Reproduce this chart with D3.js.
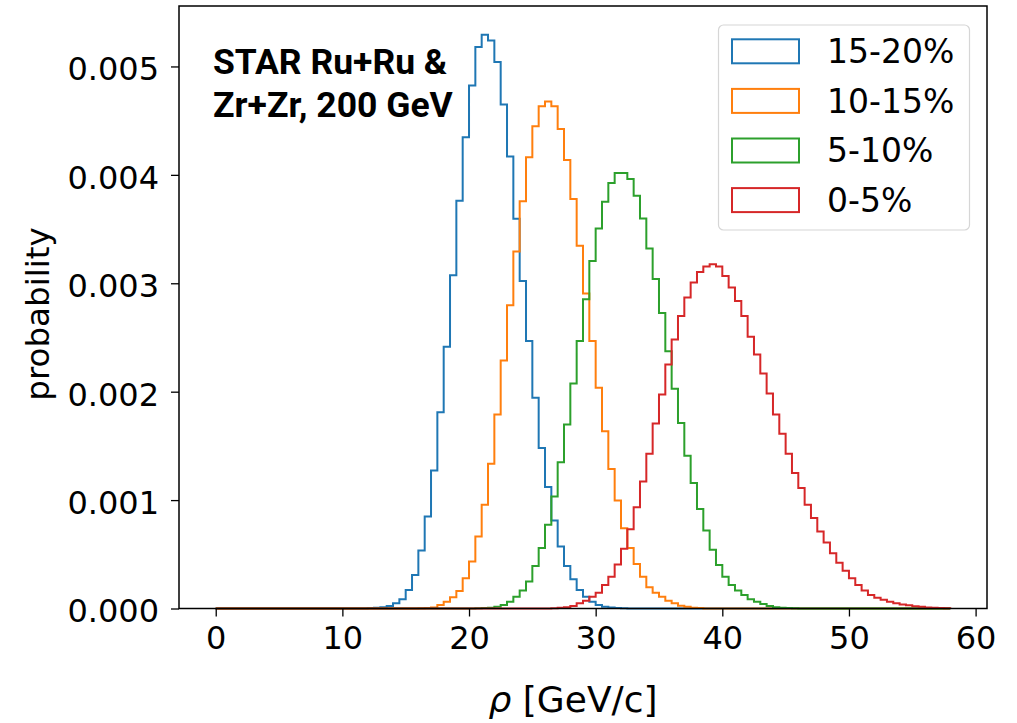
<!DOCTYPE html>
<html>
<head>
<meta charset="utf-8">
<script src="https://cdn.jsdelivr.net/npm/d3@7"></script>
<style>
	body { margin: 0; background: #fff; }
	text { font-family: "DejaVu Sans", sans-serif; fill: #000; }
</style>
</head>
<body>
<script>
// bins: common edges from 0 to 58 GeV/c, width 0.5
var binLo = 0;
var binHi = 58;
var binWidth = 0.5;

// series: label, colour, first non-empty bin (rho), probabilities (x 1e-3)
var labels = ['15-20%', '10-15%', '5-10%', '0-5%'];
var colors = ['#1f77b4', '#ff7f0e', '#2ca02c', '#d62728'];
var starts = [12.0, 16.0, 20.5, 26.5];

var cent15_20 = [0.004, 0.008, 0.011, 0.023, 0.048, 0.085, 0.171, 0.310, 0.534, 0.849,
	1.274, 1.810, 2.415, 3.074, 3.761, 4.347, 4.824, 5.179, 5.293, 5.240,
	5.041, 4.650, 4.170, 3.595, 3.021, 2.467, 1.943, 1.481, 1.121, 0.812,
	0.571, 0.393, 0.270, 0.171, 0.109, 0.063, 0.032, 0.017, 0.010, 0.005, 0.003];
var cent10_15 = [0.003, 0.005, 0.010, 0.032, 0.063, 0.104, 0.162, 0.279, 0.433, 0.664,
	0.957, 1.336, 1.789, 2.287, 2.797, 3.293, 3.756, 4.162, 4.449, 4.634,
	4.677, 4.634, 4.424, 4.137, 3.777, 3.345, 2.905, 2.467, 2.036, 1.635,
	1.287, 0.997, 0.741, 0.557, 0.410, 0.294, 0.196, 0.146, 0.109, 0.072,
	0.048, 0.026, 0.015, 0.008, 0.004];
var cent5_10 = [0.002, 0.004, 0.008, 0.017, 0.032, 0.063, 0.109, 0.165, 0.248, 0.393,
	0.557, 0.772, 1.034, 1.348, 1.697, 2.076, 2.467, 2.852, 3.206, 3.506,
	3.752, 3.925, 4.017, 4.017, 3.962, 3.807, 3.598, 3.321, 3.040, 2.726,
	2.374, 2.027, 1.712, 1.410, 1.158, 0.917, 0.719, 0.541, 0.402, 0.294,
	0.217, 0.165, 0.125, 0.085, 0.063, 0.042, 0.023, 0.012, 0.008, 0.005, 0.003];
var cent0_5 = [0.003, 0.006, 0.012, 0.023, 0.048, 0.072, 0.109, 0.146, 0.217, 0.294,
	0.405, 0.552, 0.732, 0.935, 1.172, 1.428, 1.706, 1.974, 2.251, 2.482,
	2.698, 2.868, 3.007, 3.105, 3.155, 3.176, 3.155, 3.068, 2.960, 2.837,
	2.698, 2.507, 2.344, 2.168, 1.983, 1.789, 1.613, 1.428, 1.250, 1.111,
	0.957, 0.834, 0.710, 0.608, 0.510, 0.423, 0.349, 0.279, 0.217, 0.165,
	0.125, 0.100, 0.080, 0.062, 0.048, 0.038, 0.029, 0.021, 0.015, 0.010,
	0.007, 0.004, 0.002];
var series = [cent15_20, cent10_15, cent5_10, cent0_5];

var xTicks = [0, 10, 20, 30, 40, 50, 60];
var yTicks = [0, 0.001, 0.002, 0.003, 0.004, 0.005];

var width = 1017;
var height = 723;
var margin = {top: 6, right: 30, bottom: 114.5, left: 179};

var svg = d3.select('body').append('svg')
	.attr('width', width)
	.attr('height', height);

// pad every series with empty bins so all outlines run from binLo to binHi
var nBins = Math.round((binHi - binLo) / binWidth);
var hists = series.map(function(vals, k) {
	var first = Math.round((starts[k] - binLo) / binWidth);
	var h = [];
	for (var i = 0; i < nBins; i++) {
		var j = i - first;
		h.push(j >= 0 && j < vals.length ? vals[j] / 1000 : 0);
	}
	return h;
});

var pad = (binHi - binLo) * 0.05;
var x = d3.scaleLinear()
	.domain([binLo - pad, binHi + pad])
	.range([margin.left, width - margin.right]);
var yMax = d3.max(hists, function(h) { return d3.max(h); }) * 1.05;
var y = d3.scaleLinear()
	.domain([0, yMax])
	.range([height - margin.bottom, margin.top]);

var line = d3.line()
	.x(function(d) { return x(d[0]); })
	.y(function(d) { return y(d[1]); })
	.curve(d3.curveStepAfter);

hists.forEach(function(h, k) {
	var pts = [[binLo, 0]];
	h.forEach(function(v, i) {
		pts.push([binLo + i * binWidth, v]);
	});
	pts.push([binHi, h[h.length - 1]]);
	pts.push([binHi, 0]);

	svg.append('path')
		.datum(pts)
		.attr('fill', 'none')
		.attr('stroke', colors[k])
		.attr('stroke-width', 2)
		.attr('stroke-linejoin', 'miter')
		.attr('d', line);
});

// axes
var xAxis = svg.append('g')
	.attr('transform', 'translate(0,' + (height - margin.bottom) + ')')
	.call(d3.axisBottom(x).tickValues(xTicks).tickSize(8).tickSizeOuter(0).tickPadding(10).tickFormat(d3.format('d')));
var yAxis = svg.append('g')
	.attr('transform', 'translate(' + margin.left + ',0)')
	.call(d3.axisLeft(y).tickValues(yTicks).tickSize(8).tickSizeOuter(0).tickPadding(12).tickFormat(d3.format('.3f')));

[xAxis, yAxis].forEach(function(g) {
	g.select('.domain').remove();
	g.selectAll('line').attr('stroke', '#000').attr('stroke-width', 1.3);
	g.selectAll('text')
		.attr('fill', '#000')
		.style('font-family', '"DejaVu Sans", sans-serif')
		.style('font-size', '32px');
});
yAxis.selectAll('text').attr('dy', '0.42em');
xAxis.selectAll('text').attr('dy', '0.69em');

// frame
svg.append('rect')
	.attr('x', margin.left)
	.attr('y', margin.top)
	.attr('width', width - margin.left - margin.right)
	.attr('height', height - margin.top - margin.bottom)
	.attr('fill', 'none')
	.attr('stroke', '#000')
	.attr('stroke-width', 1.5);

// axis labels
svg.append('text')
	.attr('transform', 'translate(49,314) rotate(-90)')
	.attr('text-anchor', 'middle')
	.style('font-size', '32.5px')
	.text('probability');

var xLabel = svg.append('text')
	.attr('x', 573)
	.attr('y', 712)
	.attr('text-anchor', 'middle')
	.style('font-size', '36px');
xLabel.append('tspan').style('font-style', 'italic').text('ρ');
xLabel.append('tspan').text(' [GeV/c]');

// annotation
var note = svg.append('text')
	.style('font-family', 'Roboto, "Liberation Sans", sans-serif')
	.style('font-weight', 'bold')
	.style('font-size', '35.5px');
note.append('tspan').attr('x', 213).attr('y', 74).text('STAR Ru+Ru &');
note.append('tspan').attr('x', 213).attr('y', 117).text('Zr+Zr, 200 GeV');

// legend
var legend = svg.append('g');
legend.append('rect')
	.attr('x', 718.5)
	.attr('y', 25)
	.attr('width', 251)
	.attr('height', 205)
	.attr('rx', 5)
	.attr('fill', '#fff')
	.attr('fill-opacity', 0.8)
	.attr('stroke', '#d6d6d6')
	.attr('stroke-width', 1.2);

labels.forEach(function(lab, k) {
	var cy = 51.3 + k * 49.6;
	legend.append('rect')
		.attr('x', 732)
		.attr('y', cy - 12)
		.attr('width', 67)
		.attr('height', 24)
		.attr('fill', 'none')
		.attr('stroke', colors[k])
		.attr('stroke-width', 2);
	legend.append('text')
		.attr('x', 827)
		.attr('y', cy)
		.attr('dy', '0.36em')
		.style('font-size', '33px')
		.text(lab);
});
</script>
</body>
</html>
